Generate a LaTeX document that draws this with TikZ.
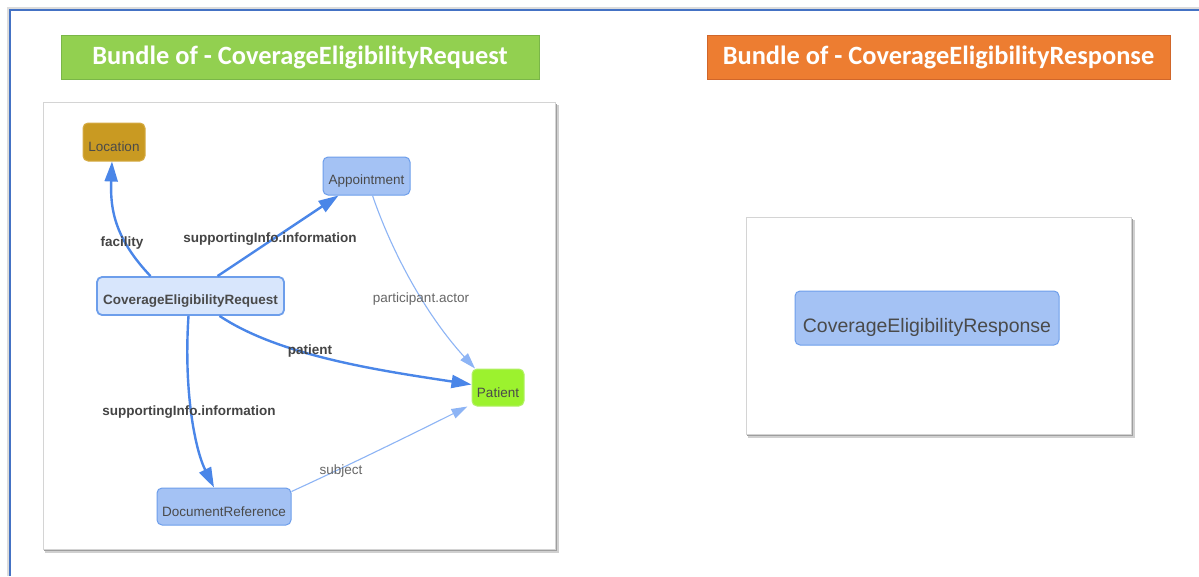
\documentclass[tikz,border=0pt]{standalone}
\usepackage{fontspec}
\setmainfont{Liberation Sans}
\newfontfamily\titlefont{Carlito}
\usetikzlibrary{arrows.meta,calc}

\definecolor{framegray}{HTML}{DCDCDC}
\definecolor{frameblue}{HTML}{4472C4}
\definecolor{reqgreen}{HTML}{92D050}
\definecolor{reqgreenedge}{HTML}{7AB648}
\definecolor{resorange}{HTML}{ED7D31}
\definecolor{resorangeedge}{HTML}{D0662A}
\definecolor{paneledge}{HTML}{D4D4D4}
\definecolor{shadowgray}{HTML}{9E9E9E}
\definecolor{shadowlight}{HTML}{D0D0D0}
\definecolor{resfill}{HTML}{A4C2F4}
\definecolor{resedge}{HTML}{6D9EEB}
\definecolor{mainfill}{HTML}{D8E6FC}
\definecolor{locfill}{HTML}{C99A22}
\definecolor{locedge}{HTML}{D6AC45}
\definecolor{patfill}{HTML}{9CF22E}
\definecolor{patedge}{HTML}{B4F06A}
\definecolor{nodetext}{HTML}{4A4A4A}
\definecolor{strongedge}{HTML}{4A86E8}
\definecolor{softedge}{HTML}{8DB4F5}
\definecolor{strongtext}{HTML}{444444}
\definecolor{softtext}{HTML}{666666}

% text set a little below the middle of its box
\newcommand{\lowtext}[2]{\raisebox{-#1}[\height][\depth]{#2}}

\begin{document}
\begin{tikzpicture}[x=1pt,y=-1pt,
  titlebox/.style={rectangle, line width=0.8pt, text=white,
    font=\titlefont\bfseries\fontsize{26.4}{30}\selectfont, inner sep=0pt},
  resource/.style={rectangle, rounded corners=5pt, line width=1pt,
    fill=resfill, draw=resedge, text=nodetext, inner sep=0pt,
    font=\fontsize{13.5}{16}\selectfont},
  strongarrow/.style={draw=strongedge, line width=2.4pt,
    -{Triangle[length=20pt,width=13pt]}},
  softarrow/.style={draw=softedge, line width=1.1pt,
    -{Triangle[length=16pt,width=10pt]}},
  stronglabel/.style={text=strongtext, inner sep=0pt,
    font=\bfseries\fontsize{13.5}{16}\selectfont},
  softlabel/.style={text=softtext, inner sep=0pt,
    font=\fontsize{13.5}{16}\selectfont}
]
\useasboundingbox (0,0) rectangle (1199,576);
\fill[white] (0,0) rectangle (1199,576);

% page frame
\draw[framegray, line width=2pt] (8,576) -- (8,8) -- (1199,8);
\draw[frameblue, line width=2pt] (10,576) -- (10,10) -- (1199,10);

% bundle titles
\node[titlebox, fill=reqgreen, draw=reqgreenedge,
  minimum width=478pt, minimum height=44pt] (reqtitle) at (300,57)
  {Bundle of - CoverageEligibilityRequest};
\node[titlebox, fill=resorange, draw=resorangeedge,
  minimum width=463pt, minimum height=44pt] (restitle) at (938.5,57)
  {Bundle of - CoverageEligibilityResponse};

% panels with drop shadows
\fill[shadowlight] (45,105) rectangle (559,553);
\fill[shadowgray] (44,104) rectangle (557,551);
\filldraw[fill=white, draw=paneledge, line width=0.8pt] (43,102) rectangle (555,549);

\fill[shadowlight] (748,220) rectangle (1135,438);
\fill[shadowgray] (747,219) rectangle (1133,436);
\filldraw[fill=white, draw=paneledge, line width=0.8pt] (746,217) rectangle (1131,434);

% request bundle resources
\node[resource, fill=locfill, draw=locedge, minimum width=62pt, minimum height=38pt]
  (loc) at (114,142) {\lowtext{5pt}{Location}};
\node[resource, minimum width=87pt, minimum height=38pt]
  (appt) at (366.5,176) {\lowtext{5pt}{Appointment}};
\node[resource, fill=mainfill, line width=1.8pt, minimum width=187pt, minimum height=38pt,
  font=\bfseries\fontsize{13.5}{16}\selectfont]
  (cer) at (190.5,296) {\lowtext{5pt}{CoverageEligibilityRequest}};
\node[resource, fill=patfill, draw=patedge, minimum width=52pt, minimum height=37pt]
  (pat) at (498,387.5) {\lowtext{5pt}{Patient}};
\node[resource, minimum width=134pt, minimum height=37pt]
  (docref) at (224,506.5) {\lowtext{5pt}{DocumentReference}};

% response bundle resource
\node[resource, minimum width=264pt, minimum height=54pt,
  font=\fontsize{19.5}{22}\selectfont]
  (cerresp) at (927,318) {\lowtext{9pt}{CoverageEligibilityResponse}};

% references
\draw[strongarrow] ([xshift=-40pt]cer.north) .. controls +(-35,-37) and +(-2,49) .. ([xshift=-2pt]loc.south);
\draw[strongarrow] ([xshift=27pt]cer.north) -- ([xshift=-28pt]appt.south);
\draw[softarrow] ([xshift=6pt]appt.south) .. controls +(22,64) and +(-45,-49) .. ([xshift=-23pt]pat.north);
\draw[strongarrow] ([xshift=29pt]cer.south) .. controls +(60,40) and +(-92,-14) .. ([yshift=3pt]pat.west);
\draw[strongarrow] ([xshift=-2pt]cer.south) .. controls +(-5,75) and +(-19,-38) .. ([xshift=-10pt]docref.north);
\draw[softarrow] ([yshift=-4pt]docref.north east) .. controls +(59,-27) and +(-46,23) .. ([xshift=-4pt]pat.south west);

% reference labels
\node[stronglabel] (lfacility) at (122,243) {facility};
\node[stronglabel] (lsupport1) at (270,239) {supportingInfo.information};
\node[softlabel] (lactor) at (421,299) {participant.actor};
\node[stronglabel] (lpatient) at (310,351) {patient};
\node[stronglabel] (lsupport2) at (189,412) {supportingInfo.information};
\node[softlabel] (lsubject) at (341,471) {subject};
\end{tikzpicture}
\end{document}
